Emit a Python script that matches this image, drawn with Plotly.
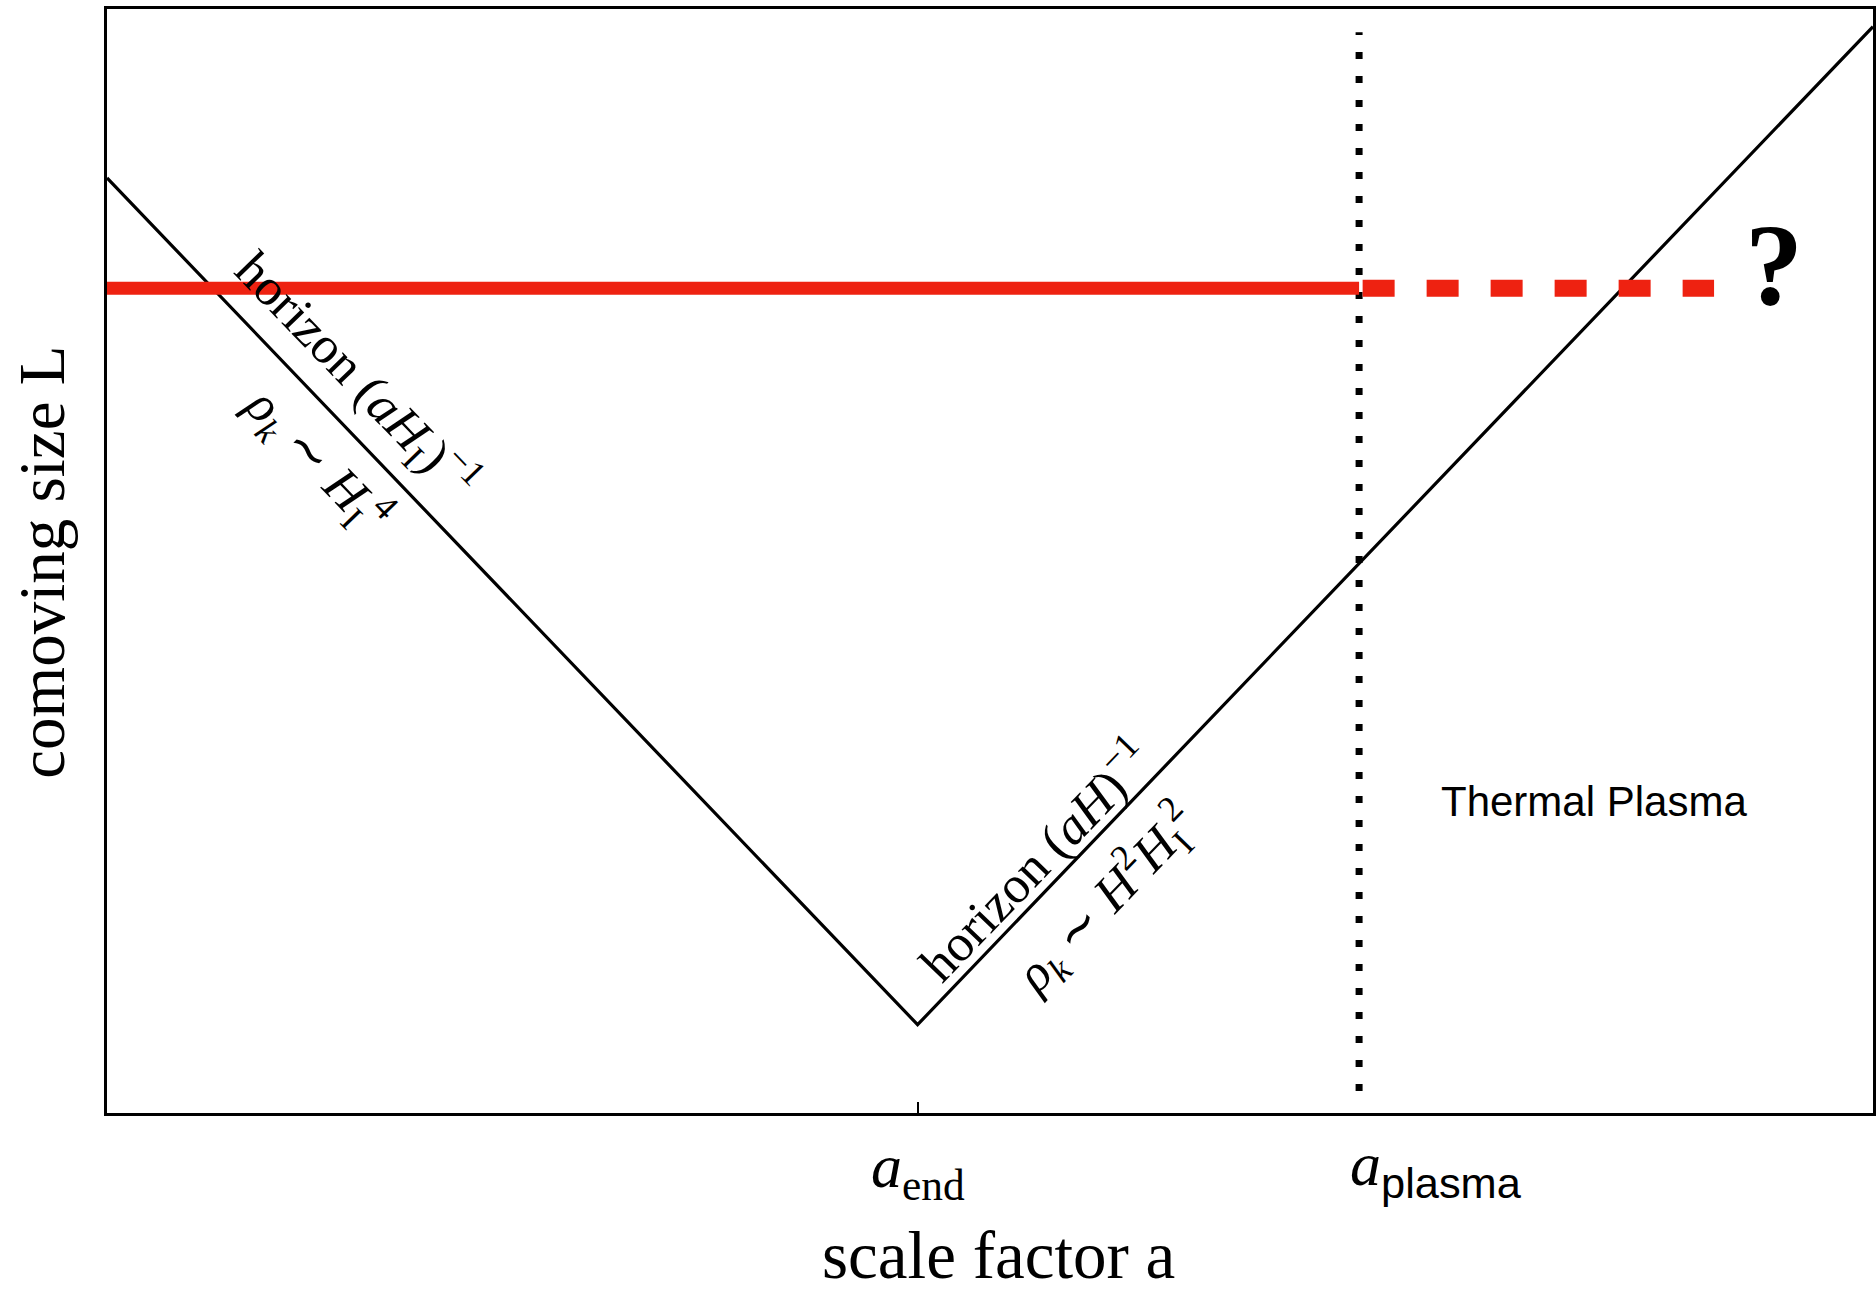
import plotly.graph_objects as go

# Comoving horizon (in log units of the scale factor and comoving size)
scale_factor = [0.0, 4.59, 10.0]
horizon_size = [8.47, 0.80, 9.84]

# Marked epochs on the scale-factor axis
a_end = 4.59
a_plasma = 7.09

# Comoving size of the mode of interest and where its fate is unknown
mode_size = 7.47
mode_start = 0.0
mode_unknown_end = 9.10

# Vertical extent of the a_plasma marker
plasma_marker_span = [0.20, 9.79]

SERIF = "Liberation Serif"
SANS = "Liberation Sans"
RED = "#EE2211"

fig = go.Figure()

# Horizon: shrinking during inflation, growing afterwards
fig.add_trace(go.Scatter(
    x=scale_factor, y=horizon_size, mode="lines",
    line=dict(color="black", width=3.2), hoverinfo="skip",
))

# a_plasma marker
fig.add_trace(go.Scatter(
    x=[a_plasma, a_plasma], y=plasma_marker_span, mode="lines",
    line=dict(color="black", width=7, dash="7px,17px"), hoverinfo="skip",
))

# Mode tracked until a_plasma (solid) ...
fig.add_trace(go.Scatter(
    x=[mode_start, a_plasma], y=[mode_size, mode_size], mode="lines",
    line=dict(color=RED, width=13), hoverinfo="skip",
))
# ... and unknown afterwards (dashed)
fig.add_trace(go.Scatter(
    x=[a_plasma + 0.02, mode_unknown_end], y=[mode_size, mode_size], mode="lines",
    line=dict(color=RED, width=17, dash="32px,32px"), hoverinfo="skip",
))

ann = []
# Labels along the inflationary branch
ann.append(dict(
    x=1.41, y=6.68, xref="x", yref="y",
    text="horizon (<i>a</i><i>H</i><sub>I</sub>)<sup>−1</sup>",
    textangle=46, showarrow=False,
    font=dict(family=SERIF, size=52, color="black"),
))
ann.append(dict(
    x=1.19, y=5.92, xref="x", yref="y",
    text="<i>ρ</i><sub><i>k</i></sub> ∼ <i>H</i><sub>I</sub><sup>4</sup>",
    textangle=46, showarrow=False,
    font=dict(family=SERIF, size=52, color="black"),
))
# Labels along the post-inflationary branch
ann.append(dict(
    x=5.25, y=2.30, xref="x", yref="y",
    text="horizon (<i>a</i><i>H</i>)<sup>−1</sup>",
    textangle=-46, showarrow=False,
    font=dict(family=SERIF, size=52, color="black"),
))
ann.append(dict(
    x=5.66, y=1.94, xref="x", yref="y",
    text="<i>ρ</i><sub><i>k</i></sub> ∼ <i>H</i><sup>2</sup><i>H</i><sub>I</sub><sup>2</sup>",
    textangle=-46, showarrow=False,
    font=dict(family=SERIF, size=52, color="black"),
))
ann.append(dict(
    x=8.42, y=2.82, xref="x", yref="y", text="Thermal Plasma",
    showarrow=False, font=dict(family=SANS, size=42, color="black"),
))
ann.append(dict(
    x=9.44, y=7.68, xref="x", yref="y", text="<b>?</b>",
    showarrow=False, font=dict(family=SERIF, size=116, color="black"),
))
# Tick labels
ann.append(dict(
    x=a_end, y=-0.052, xref="x", yref="paper", yanchor="middle",
    text="<i>a</i><sub>end</sub>",
    showarrow=False, font=dict(family=SERIF, size=62, color="black"),
))
ann.append(dict(
    x=a_plasma - 0.065, y=-0.050, xref="x", yref="paper", xanchor="left", yanchor="middle",
    text="<i>a</i><sub><span style='font-family:Liberation Sans'>plasma</span></sub>",
    showarrow=False, font=dict(family=SERIF, size=62, color="black"),
))
# Axis titles
ann.append(dict(
    x=0.505, y=-0.129, xref="paper", yref="paper", yanchor="middle",
    text="scale factor a",
    showarrow=False, font=dict(family=SERIF, size=67, color="black"),
))
ann.append(dict(
    x=-0.037, y=0.499, xref="paper", yref="paper", xanchor="center", yanchor="middle",
    text="comoving size L", textangle=-90,
    showarrow=False, font=dict(family=SERIF, size=65, color="black"),
))

fig.update_layout(
    width=1876, height=1292,
    margin=dict(l=107, r=0, t=9, b=179),
    paper_bgcolor="white", plot_bgcolor="white",
    showlegend=False,
    annotations=ann,
    xaxis=dict(
        range=[0, 10], showgrid=False, zeroline=False,
        showline=True, linecolor="black", linewidth=2.5, mirror=True,
        tickvals=[a_end], ticks="inside", ticklen=11, tickwidth=2, tickcolor="black",
        showticklabels=False,
    ),
    yaxis=dict(
        range=[0, 10], showgrid=False, zeroline=False,
        showline=True, linecolor="black", linewidth=2.5, mirror=True,
        ticks="", showticklabels=False,
    ),
)

fig.write_html("out.html")
